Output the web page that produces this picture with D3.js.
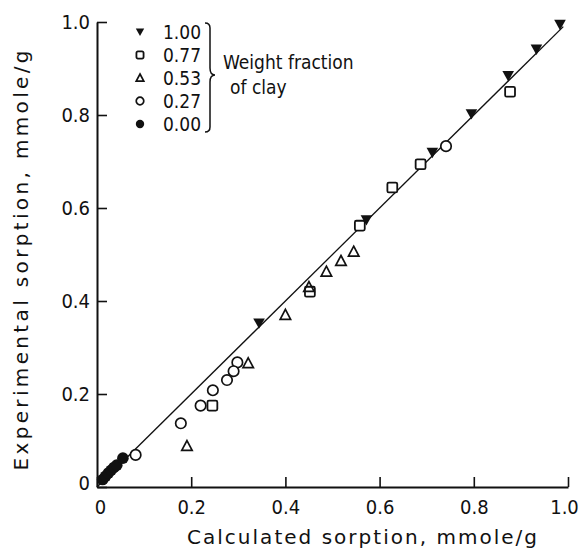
<!DOCTYPE html>
<html>
<head>
<meta charset="utf-8">
<script src="https://cdn.jsdelivr.net/npm/d3@7"></script>
<style>
  body { margin: 0; background: #fff; }
  text { font-family: "DejaVu Sans Condensed", "DejaVu Sans", sans-serif; fill: #111; }
  .title { font-family: "DejaVu Sans", sans-serif; }
</style>
</head>
<body>
<svg></svg>
<script>
const svg_width = 581;
const svg_height = 554;
const margin = { top: 22, right: 13, bottom: 67, left: 97 };
const width = svg_width - margin.left - margin.right;
const height = svg_height - margin.top - margin.bottom;

// weight fraction of clay
const fractions = ["1.00", "0.77", "0.53", "0.27", "0.00"];
const ticks = [0, 0.2, 0.4, 0.6, 0.8, 1.0];

// calculated (x) / experimental (y) sorption, mmole/g
const calc_100 = [0.983, 0.933, 0.873, 0.795, 0.712, 0.572, 0.344];
const exp_100  = [0.994, 0.941, 0.884, 0.802, 0.719, 0.574, 0.352];
const calc_077 = [0.877, 0.687, 0.627, 0.558, 0.452, 0.245];
const exp_077  = [0.850, 0.694, 0.644, 0.562, 0.420, 0.175];
const calc_053 = [0.545, 0.518, 0.487, 0.450, 0.400, 0.321, 0.191];
const exp_053  = [0.506, 0.486, 0.463, 0.430, 0.370, 0.266, 0.088];
const calc_027 = [0.741, 0.298, 0.290, 0.276, 0.246, 0.220, 0.178, 0.082];
const exp_027  = [0.733, 0.268, 0.249, 0.230, 0.208, 0.175, 0.137, 0.069];
const calc_000 = [0.012, 0.018, 0.024, 0.030, 0.036, 0.042, 0.055];
const exp_000  = [0.016, 0.023, 0.030, 0.036, 0.042, 0.047, 0.062];

const series = [
    { key: "1.00", x: calc_100, y: exp_100, shape: "tri_down" },
    { key: "0.77", x: calc_077, y: exp_077, shape: "square" },
    { key: "0.53", x: calc_053, y: exp_053, shape: "tri_up" },
    { key: "0.27", x: calc_027, y: exp_027, shape: "circle" },
    { key: "0.00", x: calc_000, y: exp_000, shape: "dot" }
];

const svg = d3.select("svg")
    .attr("width", svg_width)
    .attr("height", svg_height)
    .append("g")
    .attr("transform", `translate(${margin.left}, ${margin.top})`);

const xScale = d3.scaleLinear().domain([0, 1]).range([0, width]);
const yScale = d3.scaleLinear().domain([0, 1]).range([height, 0]);

const fmt = d => d === 0 ? "0" : d3.format(".1f")(d);

const xAxis = d3.axisBottom(xScale).tickValues(ticks).tickFormat(fmt)
    .tickSizeInner(-10).tickSizeOuter(0).tickPadding(13);
const yAxis = d3.axisLeft(yScale).tickValues(ticks).tickFormat(fmt)
    .tickSizeInner(-10).tickSizeOuter(0).tickPadding(7);

const gx = svg.append("g").attr("transform", `translate(0, ${height})`).call(xAxis);
const gy = svg.append("g").call(yAxis);

[gx, gy].forEach(g => {
    g.select(".domain").attr("stroke", "#111").attr("stroke-width", 2);
    g.selectAll(".tick line").attr("stroke", "#111").attr("stroke-width", 1.6);
    g.selectAll(".tick text").style("font-size", "20px").attr("fill", "#111");
});
gx.selectAll(".tick text").filter(d => d === 0).attr("dx", 3);
gx.selectAll(".tick text").filter(d => d === 1).attr("dx", -4);
gy.selectAll(".tick text").filter(d => d === 0).attr("dy", "0.1em");

// 1:1 line
svg.append("line")
    .attr("x1", xScale(0)).attr("y1", yScale(0))
    .attr("x2", xScale(0.99)).attr("y2", yScale(0.99))
    .attr("stroke", "#111").attr("stroke-width", 1.3);

function drawShape(g, shape, s) {
    if (shape === "tri_down") {
        g.append("path").attr("d", `M${-s},${-s * 0.85}L${s},${-s * 0.85}L0,${s * 0.95}Z`)
            .attr("fill", "#111");
    } else if (shape === "tri_up") {
        g.append("path").attr("d", `M0,${-s * 0.95}L${s * 0.9},${s * 0.75}L${-s * 0.9},${s * 0.75}Z`)
            .attr("fill", "none").attr("stroke", "#111").attr("stroke-width", 1.7);
    } else if (shape === "square") {
        g.append("rect").attr("x", -s * 0.85).attr("y", -s * 0.85)
            .attr("width", s * 1.7).attr("height", s * 1.7).attr("rx", 1.5)
            .attr("fill", "#fff").attr("stroke", "#111").attr("stroke-width", 1.8);
    } else if (shape === "circle") {
        g.append("circle").attr("r", s * 0.9)
            .attr("fill", "#fff").attr("stroke", "#111").attr("stroke-width", 1.7);
    } else {
        g.append("circle").attr("r", s).attr("fill", "#111");
    }
}

series.forEach(sr => {
    sr.x.forEach((xv, i) => {
        const g = svg.append("g")
            .attr("transform", `translate(${xScale(xv)}, ${yScale(sr.y[i])})`);
        drawShape(g, sr.shape, 5.8);
    });
});

// legend
const legend = svg.append("g");
series.forEach((sr, i) => {
    const yy = 10 + i * 23;
    const g = legend.append("g").attr("transform", `translate(43, ${yy})`);
    drawShape(g, sr.shape, 4.2);
    legend.append("text")
        .attr("x", 104).attr("y", yy)
        .attr("dy", "0.36em")
        .attr("text-anchor", "end")
        .style("font-size", "19px")
        .text(fractions[i]);
});
legend.append("path")
    .attr("d", "M108,1 Q113,1 113,6 L113,46 Q113,53 118,53 Q113,53 113,60 L113,105 Q113,110 108,110")
    .attr("fill", "none").attr("stroke", "#111").attr("stroke-width", 1.5);
legend.append("text").attr("x", 126).attr("y", 47).style("font-size", "19px").text("Weight fraction");
legend.append("text").attr("x", 133).attr("y", 72).style("font-size", "19px").text("of clay");

// axis titles
svg.append("text")
    .attr("class", "title")
    .attr("x", 265).attr("y", height + 57)
    .attr("text-anchor", "middle")
    .style("font-size", "20px")
    .attr("textLength", 350)
    .attr("lengthAdjust", "spacing")
    .text("Calculated sorption, mmole/g");

svg.append("text")
    .attr("class", "title")
    .attr("transform", `translate(-69, ${height / 2 + 6}) rotate(-90)`)
    .attr("text-anchor", "middle")
    .style("font-size", "20px")
    .attr("textLength", 420)
    .attr("lengthAdjust", "spacing")
    .text("Experimental sorption, mmole/g");
</script>
</body>
</html>
